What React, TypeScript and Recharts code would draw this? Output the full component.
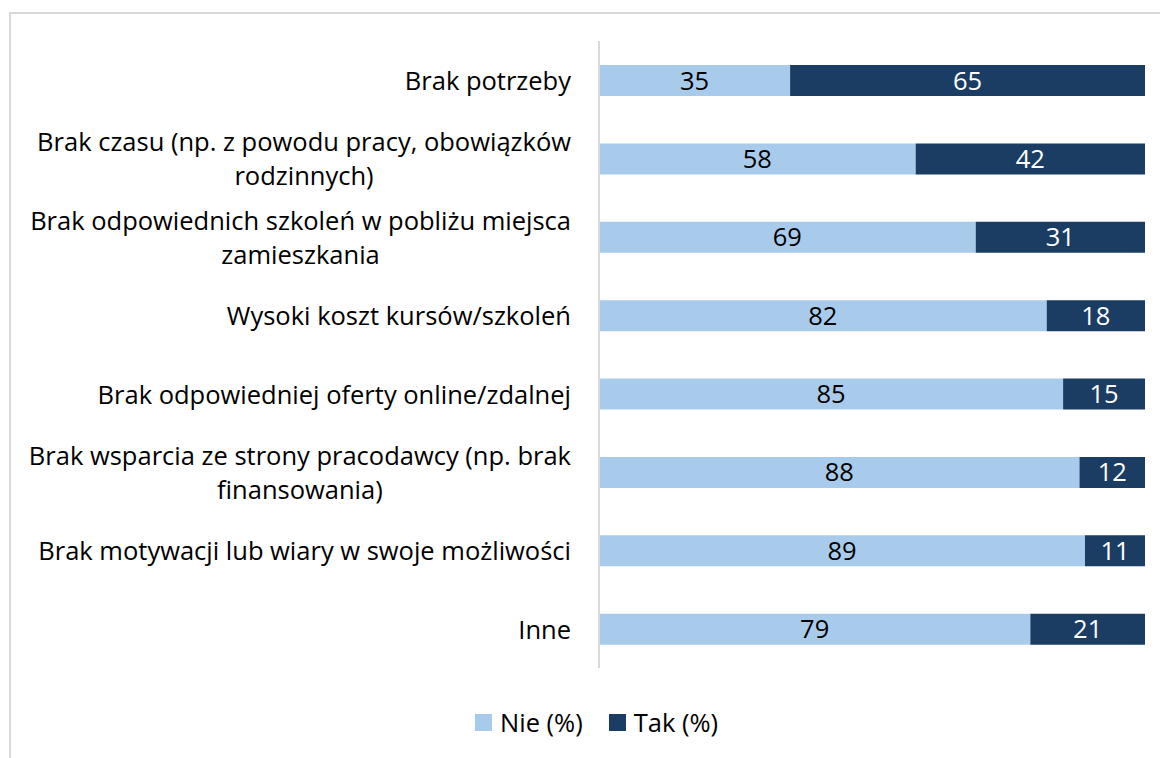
import React from 'react';
import { BarChart, Bar, XAxis, YAxis, LabelList } from 'recharts';

const categories = [
  'Brak potrzeby',
  'Brak czasu (np. z powodu pracy, obowiązków rodzinnych)',
  'Brak odpowiednich szkoleń w pobliżu miejsca zamieszkania',
  'Wysoki koszt kursów/szkoleń',
  'Brak odpowiedniej oferty online/zdalnej',
  'Brak wsparcia ze strony pracodawcy (np. brak finansowania)',
  'Brak motywacji lub wiary w swoje możliwości',
  'Inne',
];
const nie = [35, 58, 69, 82, 85, 88, 89, 79];
const tak = [65, 42, 31, 18, 15, 12, 11, 21];

const seriesNames = { nie: 'Nie (%)', tak: 'Tak (%)' };
const LIGHT = '#A9CBEB';
const DARK = '#1B3D64';
const FONT = '"Open Sans", "Noto Sans", sans-serif';
const FS = 25.5;

const data = categories.map((name, i) => ({ name, nie: nie[i], tak: tak[i] }));

// word-wrap a label into lines of at most maxChars
const wrap = (text: string, maxChars = 44) => {
  const words = text.split(' ');
  const lines: string[] = [];
  let cur = '';
  words.forEach((w) => {
    const next = cur ? cur + ' ' + w : w;
    if (next.length > maxChars && cur) {
      lines.push(cur);
      cur = w;
    } else {
      cur = next;
    }
  });
  if (cur) lines.push(cur);
  return lines;
};

let ctx: CanvasRenderingContext2D | null = null;
const measure = (s: string) => {
  if (!ctx) {
    ctx = document.createElement('canvas').getContext('2d');
  }
  if (!ctx) return s.length * FS * 0.5;
  ctx.font = `${FS}px ${FONT}`;
  return ctx.measureText(s).width;
};

const CategoryTick = (props: any) => {
  const { x, y, payload } = props;
  const lines = wrap(payload.value);
  const lh = 34;
  const right = x - 20;
  const startY = y - ((lines.length - 1) * lh) / 2 + 1;
  if (lines.length === 1) {
    return (
      <text x={right} y={startY} dy="0.35em" textAnchor="end" fill="#000" fontSize={FS} fontFamily={FONT}>
        {lines[0]}
      </text>
    );
  }
  // multi-line labels are centred on the block whose right edge sits at `right`
  const maxW = Math.max(...lines.map(measure));
  const cx = right - maxW / 2;
  return (
    <text x={cx} y={startY} textAnchor="middle" fill="#000" fontSize={FS} fontFamily={FONT}>
      {lines.map((l, i) => (
        <tspan key={i} x={cx} y={startY + i * lh} dy="0.35em">
          {l}
        </tspan>
      ))}
    </text>
  );
};

const LegendBox = () => (
  <div
    style={{
      position: 'absolute',
      left: 475,
      top: 705,
      display: 'flex',
      fontFamily: FONT,
      fontSize: FS,
      color: '#000',
      whiteSpace: 'nowrap',
    }}
  >
    {[
      { label: seriesNames.nie, color: LIGHT },
      { label: seriesNames.tak, color: DARK },
    ].map((item) => (
      <div key={item.label} style={{ display: 'flex', alignItems: 'center', marginRight: 26 }}>
        <span style={{ width: 17, height: 17, background: item.color, display: 'inline-block', marginRight: 8 }} />
        <span>{item.label}</span>
      </div>
    ))}
  </div>
);

export default function App() {
  return (
    <div style={{ position: 'absolute', left: 0, top: 0, width: 1160, height: 758, background: '#fff', overflow: 'hidden' }}>
      <div
        style={{
          position: 'absolute',
          left: 9,
          top: 12,
          width: 1200,
          height: 800,
          borderLeft: '2px solid #d9d9d9',
          borderTop: '2px solid #d9d9d9',
        }}
      />
      <div style={{ position: 'absolute', left: 0, top: 0 }}>
        <BarChart
          layout="vertical"
          width={1160}
          height={758}
          data={data}
          margin={{ top: 41, right: 15, bottom: 90, left: 0 }}
          barSize={31}
        >
          <XAxis type="number" domain={[0, 100]} hide />
          <YAxis
            type="category"
            dataKey="name"
            width={599}
            axisLine={{ stroke: '#d9d9d9', strokeWidth: 2 }}
            tickLine={false}
            tick={<CategoryTick />}
            interval={0}
          />
          <Bar dataKey="nie" stackId="a" fill={LIGHT} isAnimationActive={false}>
            <LabelList dataKey="nie" position="center" fill="#000" fontSize={FS} fontFamily={FONT} />
          </Bar>
          <Bar dataKey="tak" stackId="a" fill={DARK} isAnimationActive={false}>
            <LabelList dataKey="tak" position="center" fill="#fff" fontSize={FS} fontFamily={FONT} />
          </Bar>
        </BarChart>
      </div>
      <LegendBox />
    </div>
  );
}
